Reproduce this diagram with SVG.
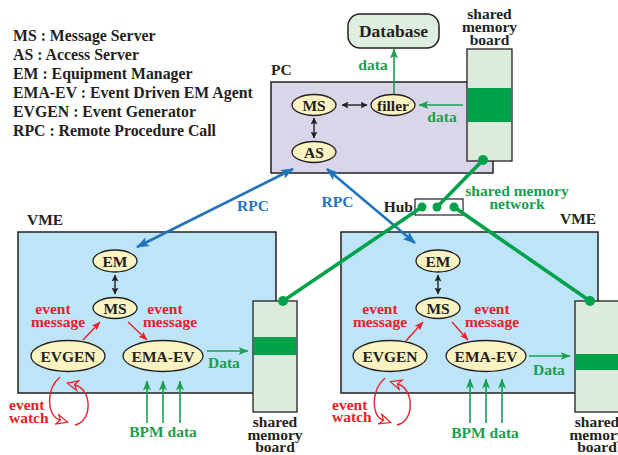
<svg xmlns="http://www.w3.org/2000/svg" width="618" height="455" viewBox="0 0 618 455">
<defs>
<style>
text{font-family:"Liberation Serif","Times New Roman",serif;font-weight:bold;font-size:15.5px;fill:#231f20}
.c{text-anchor:middle}
.lg{font-size:15.8px}
.g{fill:#1a9e4f}
.r{fill:#e8202a}
.b{fill:#1f74bb}
.box{stroke:#231f20;stroke-width:1.5}
.ell{fill:#fcf3c2;stroke:#231f20;stroke-width:1.3}
.board{fill:#dcecdc;stroke:#231f20;stroke-width:1.3}
.band{fill:#00a14b}
.blk{stroke:#231f20;stroke-width:1.4;fill:none}
.grn{stroke:#1a9e4f;stroke-width:1.6;fill:none}
.red{stroke:#e8202a;stroke-width:1.4;fill:none}
.blu{stroke:#1f74bb;stroke-width:2.6;fill:none}
.net{stroke:#00a14b;stroke-width:3.6;fill:none}
.dot{fill:#00a14b}
</style>
<marker id="mb" viewBox="0 0 13 10" refX="12" refY="5" markerWidth="13" markerHeight="10" orient="auto-start-reverse" markerUnits="userSpaceOnUse"><path d="M0,0 L13,5 L0,10 L3,5 z" fill="#1f74bb"/></marker>
<marker id="mk" viewBox="0 0 7 7" refX="6.5" refY="3.5" markerWidth="7" markerHeight="7" orient="auto-start-reverse" markerUnits="userSpaceOnUse"><path d="M0,0 L7,3.5 L0,7 L1.5,3.5 z" fill="#231f20"/></marker>
<marker id="mg" viewBox="0 0 10 8" refX="9.5" refY="4" markerWidth="10" markerHeight="8" orient="auto" markerUnits="userSpaceOnUse"><path d="M0,0 L10,4 L0,8 L2.5,4 z" fill="#1a9e4f"/></marker>
<marker id="mr" viewBox="0 0 9 7" refX="8.5" refY="3.5" markerWidth="9" markerHeight="7" orient="auto" markerUnits="userSpaceOnUse"><path d="M0,0 L9,3.5 L0,7 L2,3.5 z" fill="#e8202a"/></marker>
<marker id="mh" viewBox="-1 -1 13 12" refX="3" refY="5" markerWidth="13" markerHeight="12" orient="auto" markerUnits="userSpaceOnUse"><path d="M0,0 L11,5 L0,10 L3.5,5 z" fill="none" stroke="#e8202a" stroke-width="1.2"/></marker>
</defs>

<g id="legend">
<text class="lg" x="13" y="41">MS : Message Server</text>
<text class="lg" x="13" y="60">AS : Access Server</text>
<text class="lg" x="13" y="79">EM : Equipment Manager</text>
<text class="lg" x="13" y="98">EMA-EV : Event Driven EM Agent</text>
<text class="lg" x="13" y="117">EVGEN : Event Generator</text>
<text class="lg" x="13" y="136">RPC : Remote Procedure Call</text>
</g>

<g id="pc">
<rect class="box" x="271" y="82" width="222" height="91" fill="#dad6ea"/>
<text x="271" y="75">PC</text>
</g>
<g id="database">
<rect class="box" x="348" y="14" width="91" height="34" rx="12" fill="#deeee0"/>
<text class="c" x="393.5" y="37" style="font-size:17.5px">Database</text>
</g>
<g id="pc-board">
<rect class="board" x="467" y="49" width="45" height="112"/>
<rect class="band" x="467.7" y="88" width="43.6" height="34"/>
<text class="c" x="489.5" y="19">shared</text>
<text class="c" x="489.5" y="32">memory</text>
<text class="c" x="489.5" y="45">board</text>
</g>
<g id="pc-ms"><ellipse class="ell" cx="314" cy="105" rx="22" ry="10.5"/><text class="c" x="314" y="110.5">MS</text></g>
<g id="pc-filler"><ellipse class="ell" cx="393" cy="105" rx="22" ry="10.5"/><text class="c" x="393" y="110.5">filler</text></g>
<g id="pc-as"><ellipse class="ell" cx="314" cy="152" rx="22" ry="10.5"/><text class="c" x="314" y="157.5">AS</text></g>

<g id="hub">
<rect x="415" y="199" width="48" height="16" fill="#fff" stroke="#231f20" stroke-width="1.2"/>
<text x="413" y="212" text-anchor="end">Hub</text>
</g>

<g id="vme-left">
<rect class="box" x="18" y="232" width="258" height="161" fill="#bde5f7"/>
<text x="27" y="225">VME</text>
</g>
<g id="vme-left-board">
<rect class="board" x="253" y="301" width="44" height="111"/>
<rect class="band" x="253.7" y="337" width="42.6" height="18"/>
<text class="c" x="275" y="427">shared</text>
<text class="c" x="275" y="440">memory</text>
<text class="c" x="275" y="452">board</text>
</g>
<g id="l-em"><ellipse class="ell" cx="115" cy="261" rx="22" ry="11"/><text class="c" x="115" y="266.5">EM</text></g>
<g id="l-ms"><ellipse class="ell" cx="115" cy="308" rx="22" ry="10.5"/><text class="c" x="115" y="313.5">MS</text></g>
<g id="l-evgen"><ellipse class="ell" cx="68" cy="356" rx="37" ry="15.5"/><text class="c" x="68" y="361.5">EVGEN</text></g>
<g id="l-emaev"><ellipse class="ell" cx="163" cy="356" rx="40" ry="15.5"/><text class="c" x="163" y="361.5">EMA-EV</text></g>

<g id="vme-right">
<rect class="box" x="341" y="232" width="257" height="161" fill="#bde5f7"/>
<text x="560" y="224">VME</text>
</g>
<g id="vme-right-board">
<rect class="board" x="575" y="301" width="50" height="111"/>
<rect class="band" x="575.7" y="354" width="48" height="16"/>
<text class="c" x="597" y="427">shared</text>
<text class="c" x="597" y="440">memory</text>
<text class="c" x="597" y="452">board</text>
</g>
<g id="r-em"><ellipse class="ell" cx="438" cy="261" rx="22" ry="11"/><text class="c" x="438" y="266.5">EM</text></g>
<g id="r-ms"><ellipse class="ell" cx="438" cy="308" rx="22" ry="10.5"/><text class="c" x="438" y="313.5">MS</text></g>
<g id="r-evgen"><ellipse class="ell" cx="390" cy="356" rx="37" ry="15.5"/><text class="c" x="390" y="361.5">EVGEN</text></g>
<g id="r-emaev"><ellipse class="ell" cx="486" cy="356" rx="40" ry="15.5"/><text class="c" x="486" y="361.5">EMA-EV</text></g>

<g id="connectors">
<line class="blk" x1="342" y1="105" x2="367" y2="105" marker-start="url(#mk)" marker-end="url(#mk)"/>
<line class="blk" x1="314" y1="118" x2="314" y2="138" marker-start="url(#mk)" marker-end="url(#mk)"/>
<line class="grn" x1="394" y1="94" x2="394" y2="49" marker-end="url(#mg)"/>
<text class="c g" x="373" y="70">data</text>
<line class="grn" x1="463" y1="105" x2="419" y2="105" marker-end="url(#mg)"/>
<text class="c g" x="442" y="122">data</text>

<line class="blu" x1="137" y1="247" x2="293" y2="169" marker-start="url(#mb)" marker-end="url(#mb)"/>
<text class="c b" x="253" y="211">RPC</text>
<line class="blu" x1="327" y1="169" x2="415" y2="243" marker-start="url(#mb)" marker-end="url(#mb)"/>
<text class="c b" x="337.5" y="207">RPC</text>

<line class="net" x1="483" y1="160" x2="437" y2="207"/>
<line class="net" x1="422" y1="207" x2="283" y2="301"/>
<line class="net" x1="454" y1="207" x2="590" y2="301"/>
<circle class="dot" cx="483" cy="160" r="5"/>
<circle class="dot" cx="422" cy="207" r="4.5"/>
<circle class="dot" cx="437" cy="207" r="4.5"/>
<circle class="dot" cx="454" cy="207" r="4.5"/>
<circle class="dot" cx="283" cy="301" r="5"/>
<circle class="dot" cx="590" cy="301" r="5"/>
<text class="c g" x="517" y="196">shared memory</text>
<text class="c g" x="517" y="209">network</text>

<line class="blk" x1="115" y1="275" x2="115" y2="294" marker-start="url(#mk)" marker-end="url(#mk)"/>
<line class="red" x1="83" y1="340" x2="100" y2="322" marker-end="url(#mr)"/>
<line class="red" x1="128" y1="322" x2="147" y2="340" marker-end="url(#mr)"/>
<text class="c r" x="53" y="314">event</text>
<text class="c r" x="58" y="327">message</text>
<text class="c r" x="165" y="314">event</text>
<text class="c r" x="170" y="327">message</text>
<line class="grn" x1="207" y1="351" x2="248" y2="351" marker-end="url(#mg)"/>
<text class="g" x="208" y="368">Data</text>
<line class="grn" x1="147" y1="423" x2="147" y2="381" marker-end="url(#mg)"/>
<line class="grn" x1="163" y1="423" x2="163" y2="381" marker-end="url(#mg)"/>
<line class="grn" x1="180" y1="423" x2="180" y2="381" marker-end="url(#mg)"/>
<text class="c g" x="163" y="437">BPM data</text>
<path class="red" d="M60,377 C46,389 46,416 60,420" marker-end="url(#mh)"/>
<path class="red" d="M75,425 C93,421 92,389 75,385" marker-end="url(#mh)"/>
<text class="r" x="9" y="410">event</text>
<text class="r" x="9" y="423">watch</text>

<line class="blk" x1="438" y1="275" x2="438" y2="294" marker-start="url(#mk)" marker-end="url(#mk)"/>
<line class="red" x1="405" y1="342" x2="423" y2="322" marker-end="url(#mr)"/>
<line class="red" x1="452" y1="322" x2="468" y2="340" marker-end="url(#mr)"/>
<text class="c r" x="380" y="314">event</text>
<text class="c r" x="380" y="327">message</text>
<text class="c r" x="492" y="314">event</text>
<text class="c r" x="492" y="327">message</text>
<line class="grn" x1="529" y1="356" x2="570" y2="356" marker-end="url(#mg)"/>
<text class="g" x="533" y="375">Data</text>
<line class="grn" x1="470" y1="423" x2="470" y2="379" marker-end="url(#mg)"/>
<line class="grn" x1="486" y1="423" x2="486" y2="379" marker-end="url(#mg)"/>
<line class="grn" x1="502" y1="423" x2="502" y2="379" marker-end="url(#mg)"/>
<text class="c g" x="485" y="438">BPM data</text>
<path class="red" d="M385,378 C371,390 371,416 383,420" marker-end="url(#mh)"/>
<path class="red" d="M397,425 C415,421 414,389 398,384" marker-end="url(#mh)"/>
<text class="r" x="332" y="410">event</text>
<text class="r" x="332" y="422">watch</text>
</g>
</svg>
